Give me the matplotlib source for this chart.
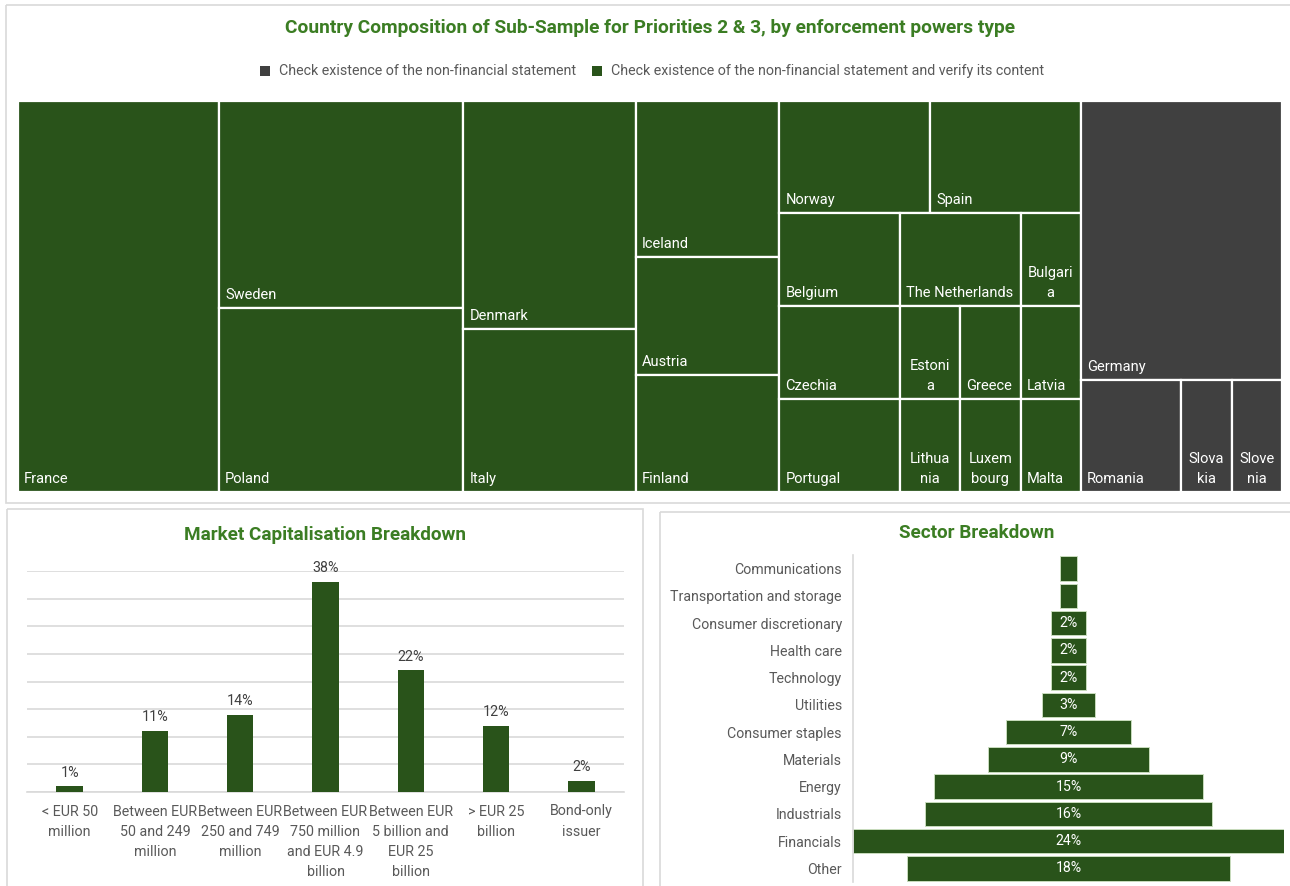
import matplotlib
matplotlib.use('Agg')
import matplotlib.pyplot as plt
from matplotlib.patches import Rectangle
from matplotlib import font_manager
from matplotlib.textpath import TextPath
from matplotlib.font_manager import FontProperties

# ---------------- data ----------------
green_countries = ['France', 'Sweden', 'Poland', 'Denmark', 'Italy', 'Iceland', 'Austria',
                   'Finland', 'Norway', 'Spain', 'Belgium', 'Czechia', 'Portugal',
                   'The Netherlands', 'Bulgaria', 'Estonia', 'Greece', 'Latvia',
                   'Lithuania', 'Luxembourg', 'Malta']
green_counts = [14, 9, 8, 7, 5, 4, 3, 3, 3, 3, 2, 2, 2, 2, 1, 1, 1, 1, 1, 1, 1]
grey_countries = ['Germany', 'Romania', 'Slovakia', 'Slovenia']
grey_counts = [10, 2, 1, 1]
legend_labels = ['Check existence of the non-financial statement',
                 'Check existence of the non-financial statement and verify its content']

cap_labels = ['< EUR 50\nmillion', 'Between EUR\n50 and 249\nmillion',
              'Between EUR\n250 and 749\nmillion', 'Between EUR\n750 million\nand EUR 4.9\nbillion',
              'Between EUR\n5 billion and\nEUR 25\nbillion', '> EUR 25\nbillion', 'Bond-only\nissuer']
cap_values = [1, 11, 14, 38, 22, 12, 2]

sector_labels = ['Communications', 'Transportation and storage', 'Consumer discretionary',
                 'Health care', 'Technology', 'Utilities', 'Consumer staples', 'Materials',
                 'Energy', 'Industrials', 'Financials', 'Other']
sector_values = [1, 1, 2, 2, 2, 3, 7, 9, 15, 16, 24, 18]

# ---------------- style ----------------
GREEN = '#29531a'
GREY = '#404040'
TITLE_GREEN = '#3b7d23'
TXT = '#595959'
BORDER = '#d9d9d9'

names = {f.name for f in font_manager.fontManager.ttflist}
NARROW = 'Liberation Sans Narrow' if 'Liberation Sans Narrow' in names else 'Roboto'
TMFONT = 'Roboto' if 'Roboto' in names else 'DejaVu Sans'

W, H = 1290, 886
fig = plt.figure(figsize=(W / 100, H / 100), dpi=100)


def add_ax(l, t, r, b):
    return fig.add_axes([l / W, 1 - b / H, (r - l) / W, (b - t) / H])


bg = add_ax(0, 0, W, H)
bg.set_xlim(0, W)
bg.set_ylim(H, 0)
bg.axis('off')

# panel borders
for (l, t, r, b) in [(6, 5, 1296, 503), (7, 509, 643, 890), (660, 512, 1296, 890)]:
    bg.add_patch(Rectangle((l, t), r - l, b - t, fill=False, ec=BORDER, lw=1.2))

# titles
bg.text(650, 28, 'Country Composition of Sub-Sample for Priorities 2 & 3, by enforcement powers type',
        ha='center', va='center', fontsize=13.8, fontweight='bold', color=TITLE_GREEN, family=NARROW)
bg.text(325, 535, 'Market Capitalisation Breakdown', ha='center', va='center',
        fontsize=13.6, fontweight='bold', color=TITLE_GREEN, family=NARROW)
bg.text(977, 533, 'Sector Breakdown', ha='center', va='center',
        fontsize=13.6, fontweight='bold', color=TITLE_GREEN, family=NARROW)

# legend
lx = 260
fp_leg = FontProperties(family=NARROW, size=10.3)
for lab, col in zip(legend_labels, [GREY, GREEN]):
    bg.add_patch(Rectangle((lx, 66), 10, 10, color=col, lw=0))
    bg.text(lx + 19, 71, lab, ha='left', va='center', color=TXT, fontproperties=fp_leg)
    wpx = TextPath((0, 0), lab, prop=fp_leg).get_extents().width * 100 / 72
    lx = lx + 19 + wpx + 16

# ---------------- treemap ----------------
TL, TT, TR, TB = 18, 101, 1282, 492
tw, th = TR - TL, TB - TT
axt = add_ax(TL, TT, TR, TB)
axt.set_xlim(0, tw)
axt.set_ylim(th, 0)
axt.axis('off')


def worst(areas, side):
    s = sum(areas)
    t = s / side
    r = 1.0
    for a in areas:
        ln = a / t
        r = max(r, ln / t, t / ln)
    return r


def squarify(values, x, y, w, h, tol=1.08, last_strip=2.3):
    total = float(sum(values))
    areas = [v * w * h / total for v in values]
    rects = []
    i = 0
    while i < len(areas):
        rest = areas[i:]
        longer = max(w, h)
        shorter = min(w, h)
        if len(rest) > 1 and worst(rest, longer) <= last_strip:
            if w >= h:
                cx = x
                for a in rest:
                    lw_ = a / h
                    rects.append((cx, y, lw_, h))
                    cx += lw_
            else:
                cy = y
                for a in rest:
                    lh = a / w
                    rects.append((x, cy, w, lh))
                    cy += lh
            break
        row = [rest[0]]
        wr = worst(row, shorter)
        for a in rest[1:]:
            wc = worst(row + [a], shorter)
            if wc <= wr * tol:
                row.append(a)
                wr = wc
            else:
                break
        s = sum(row)
        if w >= h:
            t = s / h
            cy = y
            for a in row:
                lh = a / t
                rects.append((x, cy, t, lh))
                cy += lh
            x += t
            w -= t
        else:
            t = s / w
            cx = x
            for a in row:
                lw_ = a / t
                rects.append((cx, y, lw_, t))
                cx += lw_
            y += t
            h -= t
        i += len(row)
    return rects


group_rects = squarify([sum(green_counts), sum(grey_counts)], 0, 0, tw, th)
fp_tm = FontProperties(family=TMFONT, size=10.5)


def text_px(s):
    if not s:
        return 0
    return TextPath((0, 0), s, prop=fp_tm).get_extents().width * 100 / 72


def wrap(label, w):
    # multi-word labels only need to fit the cell's inner width;
    # single words are broken by character when the cell is narrow
    if ' ' in label and text_px(label) <= w - 10:
        return [label]
    avail = w - 15.2
    if text_px(label) <= avail:
        return [label]
    lines, cur = [], ''
    for ch in label:
        if cur and text_px(cur + ch) > avail:
            lines.append(cur)
            cur = ch
        else:
            cur += ch
    lines.append(cur)
    return lines


for (gx, gy, gw, gh), labels, counts, col in zip(group_rects,
                                                 [green_countries, grey_countries],
                                                 [green_counts, grey_counts],
                                                 [GREEN, GREY]):
    rects = squarify(counts, gx, gy, gw, gh)
    for (x, y, w, h), lab in zip(rects, labels):
        axt.add_patch(Rectangle((x, y), w, h, facecolor=col, edgecolor='white', lw=1.6))
        lines = wrap(lab, w)
        base = y + h - 9
        if len(lines) == 1:
            axt.text(x + 6, base, lab, ha='left', va='baseline', color='white',
                     fontproperties=fp_tm)
        else:
            for k, ln in enumerate(reversed(lines)):
                axt.text(x + w / 2, base - 20 * k, ln, ha='center', va='baseline',
                         color='white', fontproperties=fp_tm)

# ---------------- market cap bar chart ----------------
axb = add_ax(27, 571, 624, 792)
xs = list(range(len(cap_values)))
axb.bar(xs, cap_values, width=0.31, color=GREEN, zorder=3)
axb.set_xlim(-0.5, len(cap_values) - 0.5)
axb.set_ylim(0, 40)
axb.set_yticks(range(0, 41, 5))
axb.yaxis.grid(True, color=BORDER, lw=1.2)
axb.set_axisbelow(True)
axb.tick_params(axis='y', length=0, labelleft=False)
for sp in ['left', 'right', 'top']:
    axb.spines[sp].set_visible(False)
axb.spines['bottom'].set_color(BORDER)
axb.spines['bottom'].set_linewidth(1.2)
axb.set_xticks(xs)
axb.set_xticklabels(cap_labels, fontsize=10.3, color=TXT, family=NARROW, linespacing=1.55)
axb.tick_params(axis='x', length=0, pad=9)
for x, v in zip(xs, cap_values):
    axb.annotate(f'{v}%', (x, v), xytext=(0, 5), textcoords='offset points',
                 ha='center', va='bottom', fontsize=10.3, color=GREY, family=NARROW)

# ---------------- sector funnel ----------------
axs = add_ax(853, 555, 1284, 882)
ys = list(range(len(sector_values)))
half = [v / 2 for v in sector_values]
axs.barh(ys, sector_values, left=[-h_ for h_ in half], height=0.9, color=GREEN,
         edgecolor='#c8dcbd', lw=0.7)
axs.set_xlim(-max(sector_values) / 2, max(sector_values) / 2)
axs.set_ylim(len(sector_values) - 0.5, -0.5)
axs.set_yticks(ys)
axs.set_yticklabels(sector_labels, fontsize=10.2, color=TXT, family=NARROW)
axs.tick_params(axis='y', length=0, pad=8)
axs.tick_params(axis='x', length=0, labelbottom=False)
for sp in ['right', 'top', 'bottom']:
    axs.spines[sp].set_visible(False)
axs.spines['left'].set_color(BORDER)
axs.spines['left'].set_linewidth(1.2)
for y, v in zip(ys, sector_values):
    if v >= 2:
        axs.text(0, y, f'{v}%', ha='center', va='center', color='white',
                 fontsize=10.2, family=NARROW)

fig.savefig('out.png', dpi=100)
